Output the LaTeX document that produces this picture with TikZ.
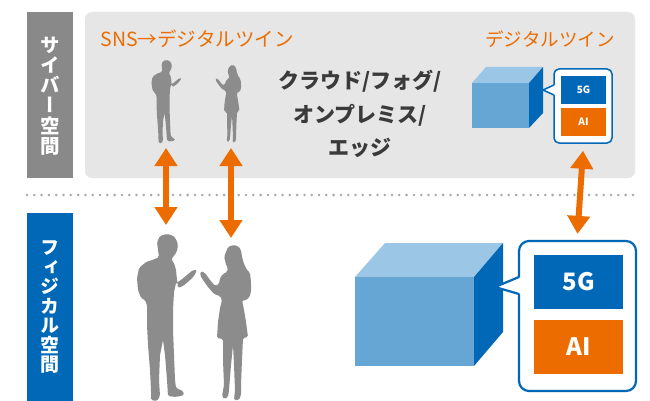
\documentclass[tikz,border=0pt]{standalone}
\usepackage{fontspec}
\setmainfont{Noto Sans CJK JP}
\newfontfamily\jpv{Noto Sans CJK JP}[RawFeature=+vert]
\usetikzlibrary{arrows.meta,calc}

\definecolor{cyan1}{HTML}{0068B7}
\definecolor{cubefront}{HTML}{66A6D5}
\definecolor{cubetop}{HTML}{9CC6E5}
\definecolor{orng}{HTML}{EC6C00}
\definecolor{panel}{HTML}{E6E6E6}
\definecolor{tagGray}{HTML}{898989}
\definecolor{person}{HTML}{8C8C8C}
\definecolor{ink}{HTML}{3A3A3A}
\definecolor{dotgray}{HTML}{A8A8A8}

% silhouette outlines, drawn at full size with the head top as reference
\def\manoutline{(166,234)--(172,235)--(176,239)--(178,245)--(177,251)--(174,256)--(171,259)--(174,263)--(176,270)--(177,280)--(178,288)--(183,286)--(189,281)--(194,276)--(197,270)--(193,270)--(187,275)--(181,280)--(176,283)--(174,292)--(173,310)--(173,330)--(174,355)--(175,380)--(176,388)--(183,391)--(184,395)--(176,397)--(168,396)--(167,380)--(165,355)--(163,340)--(160,355)--(159,380)--(160,396)--(157,401)--(151,400)--(151,390)--(150,370)--(148,345)--(147,325)--(147,305)--(145,300)--(141,298)--(138,290)--(137,278)--(139,268)--(146,262)--(155,259)--(159,257)--(158,250)--(157,242)--(160,236)--cycle}
\def\womanoutline{(233,245)--(238,246)--(241,250)--(242,257)--(244,264)--(247,270)--(250,273)--(251,282)--(251,292)--(249,298)--(244,301)--(242,300)--(244,310)--(246,322)--(248,337)--(243,338)--(242,360)--(241,385)--(241,395)--(239,400)--(234,400)--(235,390)--(234,365)--(233,345)--(231,365)--(229,390)--(228,397)--(224,399)--(222,396)--(224,385)--(223,360)--(223,339)--(217,338)--(218,322)--(220,308)--(222,300)--(220,296)--(214,294)--(208,287)--(203,280)--(200,275)--(201,271)--(205,273)--(210,280)--(215,286)--(219,284)--(220,278)--(223,274)--(227,272)--(228,268)--(226,265)--(225,260)--(224,257)--(226,252)--(228,247)--cycle}

\tikzset{
  figure/.style={fill=person, rounded corners=1.5pt},
  vlabel/.style={text=white, align=center, font=\jpv\bfseries\fontsize{19.5}{20.2}\selectfont},
  orangelabel/.style={text=orng, font=\fontsize{18.5}{20}\selectfont},
  centertext/.style={text=ink, align=center, font=\bfseries\fontsize{21}{33.5}\selectfont},
  bigtag/.style={text=white, font=\bfseries\fontsize{24}{24}\selectfont, minimum width=89pt, minimum height=54pt, inner sep=0pt},
  smalltag/.style={text=white, font=\bfseries\fontsize{10}{10}\selectfont, minimum width=45pt, minimum height=28pt, inner sep=0pt},
  biarrow/.style={draw=orng, line width=6pt, {Triangle[width=22pt,length=18pt]}-{Triangle[width=22pt,length=18pt]}},
  bubble/.style={draw=cyan1, fill=white, inner sep=0pt},
}

\begin{document}
\begin{tikzpicture}[x=1pt,y=-1pt]
\useasboundingbox (0,0) rectangle (650,401);
\fill[white] (0,0) rectangle (650,401);

% cyber space panel and side tags
\fill[panel, rounded corners=7pt] (85,12) rectangle (635,178);
\fill[tagGray] (27,12) rectangle (73,178);
\fill[cyan1] (27,213) rectangle (73,401);
\node[vlabel] (cyberlabel) at (50,96) {サ\\イ\\バ\\ー\\空\\間};
\node[vlabel, font=\jpv\bfseries\fontsize{19}{19.5}\selectfont] (physlabel) at (50,307) {フ\\ィ\\ジ\\カ\\ル\\空\\間};

% boundary between the two spaces
\draw[dotgray, line width=2.8pt, line cap=round, dash pattern=on 0pt off 7.3pt] (27,195) -- (640,195);

% headings
\node[orangelabel, anchor=west, font=\fontsize{19.5}{20}\selectfont] (snstitle) at (97,39) {SNS→デジタルツイン};
\node[orangelabel] (twintitle) at (550,39) {デジタルツイン};
\node[centertext] (infra) at (360,114) {クラウド/フォグ/\\オンプレミス/\\エッジ};

% people in physical space
\fill[figure] \manoutline;
\fill[figure] \womanoutline;
% their counterparts in cyber space
\begin{scope}[shift={(166,60)}, scale=0.5, shift={(-166,-234)}]
  \fill[figure] \manoutline;
\end{scope}
\begin{scope}[shift={(232,65)}, scale=0.5, shift={(-233,-245)}]
  \fill[figure] \womanoutline;
\end{scope}

\coordinate (manTop) at (166,148);
\coordinate (manBot) at (166,225);
\coordinate (womanTop) at (231,148);
\coordinate (womanBot) at (231,238);
\draw[biarrow] (manTop) -- (manBot);
\draw[biarrow] (womanTop) -- (womanBot);

% small cube (digital twin)
\fill[cubetop] (472,83) -- (486,67) -- (543,67) -- (529,83) -- cycle;
\fill[cyan1] (529,83) -- (543,67) -- (543,113) -- (529,128) -- cycle;
\fill[cubefront] (472,83) rectangle (529,128);

% small speech bubble
\node[bubble, line width=1.5pt, rounded corners=5pt, minimum width=58pt, minimum height=74pt] (smallbubble) at (583,106) {};
\fill[white] (555,85) -- (543,90) -- (555,95) -- cycle;
\draw[cyan1, line width=1.5pt, line join=round] (554,85) -- (543,90) -- (554,95);
\node[smalltag, fill=cyan1] (small5g) at (583.5,90) {5G};
\node[smalltag, fill=orng] (smallai) at (583.5,122) {AI};

% large cube (physical object)
\fill[cubetop] (355,277) -- (385,243) -- (503,243) -- (474,277) -- cycle;
\fill[cyan1] (474,277) -- (503,243) -- (503,332) -- (474,366) -- cycle;
\fill[cubefront] (355,277) rectangle (474,366);

% large speech bubble
\node[bubble, line width=2.2pt, rounded corners=10pt, minimum width=117pt, minimum height=150pt] (bigbubble) at (577.5,316) {};
\fill[white] (521,277) -- (495,287) -- (521,294) -- cycle;
\draw[cyan1, line width=2.2pt, line join=round] (519,277) -- (495,287) -- (519,294);
\node[bigtag, fill=cyan1] (big5g) at (578.5,282) {5G};
\node[bigtag, fill=orng] (bigai) at (578.5,347) {AI};

% link between twin and object
\draw[biarrow] ($(smallbubble.south)+(0,7)$) -- ($(bigbubble.north)+(0,-6)$);
\end{tikzpicture}
\end{document}
